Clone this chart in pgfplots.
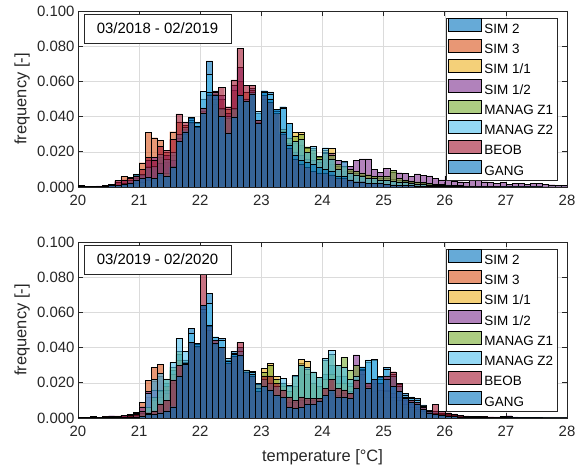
\documentclass[border=0pt]{standalone}
\usepackage{fontspec}
\setmainfont{Liberation Sans}
\usepackage{pgfplots}
\usepackage{pgfplotstable}
\pgfplotsset{compat=1.18}

% MATLAB default colour order
\definecolor{cA}{rgb}{0,0.447,0.741}
\definecolor{cB}{rgb}{0.850,0.325,0.098}
\definecolor{cC}{rgb}{0.929,0.694,0.125}
\definecolor{cD}{rgb}{0.494,0.184,0.556}
\definecolor{cE}{rgb}{0.466,0.674,0.188}
\definecolor{cF}{rgb}{0.301,0.745,0.933}
\definecolor{cG}{rgb}{0.635,0.078,0.184}
\definecolor{axcol}{rgb}{0.15,0.15,0.15}

% relative frequencies per 0.1 K bin, 03/2018 - 02/2019
\pgfplotstableread{
t    s2     s3     s11    s12    z1     z2     beob   gang
20.0 0.0003 0.0004 0.0002 0.0008 0.0002 0.0003 0.0005 0.0003
20.1 0.0002 0.0003 0.0001 0.0005 0.0001 0.0002 0.0004 0.0002
20.2 0.0002 0.0003 0.0001 0.0004 0.0001 0.0002 0.0003 0.0002
20.3 0.0003 0.0005 0.0002 0.0006 0.0002 0.0003 0.0005 0.0003
20.4 0.0005 0.0010 0.0003 0.0010 0.0003 0.0005 0.0008 0.0004
20.5 0.0008 0.0012 0.0005 0.0013 0.0005 0.0008 0.0015 0.0008
20.6 0.0010 0.0025 0.0008 0.0030 0.0008 0.0010 0.0036 0.0010
20.7 0.0020 0.0059 0.0010 0.0040 0.0010 0.0020 0.0040 0.0015
20.8 0.0030 0.0055 0.0015 0.0040 0.0015 0.0040 0.0050 0.0020
20.9 0.0070 0.0070 0.0020 0.0050 0.0020 0.0075 0.0060 0.0040
21.0 0.0070 0.0138 0.0030 0.0070 0.0030 0.0075 0.0100 0.0050
21.1 0.0120 0.0310 0.0040 0.0150 0.0040 0.0115 0.0170 0.0055
21.2 0.0110 0.0280 0.0050 0.0168 0.0050 0.0120 0.0150 0.0050
21.3 0.0170 0.0267 0.0070 0.0134 0.0070 0.0186 0.0230 0.0078
21.4 0.0140 0.0200 0.0080 0.0180 0.0080 0.0160 0.0210 0.0062
21.5 0.0180 0.0314 0.0120 0.0150 0.0120 0.0200 0.0270 0.0115
21.6 0.0300 0.0370 0.0260 0.0280 0.0260 0.0300 0.0415 0.0260
21.7 0.0330 0.0350 0.0300 0.0300 0.0300 0.0340 0.0370 0.0314
21.8 0.0390 0.0360 0.0360 0.0350 0.0360 0.0380 0.0370 0.0396
21.9 0.0360 0.0330 0.0340 0.0330 0.0340 0.0370 0.0340 0.0347
22.0 0.0500 0.0430 0.0420 0.0400 0.0420 0.0545 0.0450 0.0420
22.1 0.0716 0.0500 0.0530 0.0500 0.0530 0.0640 0.0520 0.0540
22.2 0.0530 0.0480 0.0500 0.0470 0.0500 0.0547 0.0540 0.0520
22.3 0.0450 0.0500 0.0440 0.0520 0.0440 0.0450 0.0566 0.0400
22.4 0.0400 0.0440 0.0390 0.0420 0.0390 0.0400 0.0456 0.0307
22.5 0.0450 0.0550 0.0440 0.0580 0.0440 0.0450 0.0608 0.0398
22.6 0.0520 0.0600 0.0520 0.0680 0.0520 0.0520 0.0788 0.0520
22.7 0.0500 0.0540 0.0490 0.0500 0.0490 0.0500 0.0576 0.0485
22.8 0.0560 0.0530 0.0530 0.0550 0.0530 0.0540 0.0576 0.0530
22.9 0.0420 0.0370 0.0370 0.0370 0.0370 0.0428 0.0380 0.0360
23.0 0.0547 0.0500 0.0500 0.0500 0.0500 0.0540 0.0520 0.0540
23.1 0.0540 0.0480 0.0480 0.0480 0.0480 0.0530 0.0480 0.0500
23.2 0.0440 0.0420 0.0420 0.0420 0.0420 0.0430 0.0420 0.0443
23.3 0.0456 0.0300 0.0330 0.0320 0.0330 0.0450 0.0300 0.0310
23.4 0.0363 0.0200 0.0280 0.0250 0.0280 0.0360 0.0220 0.0240
23.5 0.0250 0.0140 0.0310 0.0200 0.0290 0.0260 0.0160 0.0180
23.6 0.0240 0.0100 0.0310 0.0180 0.0300 0.0270 0.0130 0.0153
23.7 0.0200 0.0080 0.0220 0.0160 0.0229 0.0200 0.0110 0.0140
23.8 0.0190 0.0060 0.0210 0.0150 0.0220 0.0230 0.0090 0.0130
23.9 0.0150 0.0050 0.0170 0.0140 0.0176 0.0160 0.0080 0.0110
24.0 0.0160 0.0050 0.0210 0.0200 0.0190 0.0223 0.0080 0.0100
24.1 0.0130 0.0040 0.0218 0.0190 0.0180 0.0160 0.0070 0.0090
24.2 0.0090 0.0030 0.0120 0.0153 0.0130 0.0100 0.0050 0.0060
24.3 0.0090 0.0030 0.0110 0.0140 0.0120 0.0148 0.0050 0.0060
24.4 0.0060 0.0020 0.0090 0.0116 0.0100 0.0080 0.0040 0.0040
24.5 0.0050 0.0020 0.0080 0.0150 0.0090 0.0070 0.0030 0.0030
24.6 0.0050 0.0020 0.0070 0.0160 0.0080 0.0060 0.0030 0.0030
24.7 0.0040 0.0015 0.0070 0.0160 0.0070 0.0050 0.0020 0.0020
24.8 0.0040 0.0010 0.0060 0.0102 0.0060 0.0050 0.0020 0.0020
24.9 0.0030 0.0010 0.0050 0.0085 0.0060 0.0040 0.0020 0.0020
25.0 0.0030 0.0010 0.0050 0.0106 0.0060 0.0040 0.0015 0.0015
25.1 0.0025 0.0008 0.0045 0.0087 0.0095 0.0035 0.0012 0.0012
25.2 0.0020 0.0006 0.0040 0.0081 0.0050 0.0030 0.0010 0.0010
25.3 0.0018 0.0005 0.0035 0.0078 0.0040 0.0025 0.0010 0.0010
25.4 0.0015 0.0004 0.0030 0.0060 0.0035 0.0020 0.0008 0.0008
25.5 0.0012 0.0003 0.0025 0.0074 0.0030 0.0018 0.0006 0.0006
25.6 0.0010 0.0003 0.0020 0.0068 0.0025 0.0015 0.0005 0.0005
25.7 0.0008 0.0002 0.0018 0.0063 0.0020 0.0012 0.0004 0.0004
25.8 0.0006 0.0002 0.0015 0.0050 0.0018 0.0010 0.0003 0.0003
25.9 0.0005 0.0001 0.0012 0.0040 0.0015 0.0008 0.0003 0.0003
26.0 0.0004 0.0001 0.0010 0.0063 0.0012 0.0006 0.0002 0.0002
26.1 0.0003 0.0001 0.0008 0.0034 0.0010 0.0005 0.0002 0.0002
26.2 0.0003 0.0001 0.0007 0.0030 0.0008 0.0004 0.0002 0.0002
26.3 0.0002 0.0001 0.0006 0.0025 0.0007 0.0003 0.0001 0.0001
26.4 0.0002 0.0001 0.0005 0.0036 0.0006 0.0003 0.0001 0.0001
26.5 0.0002 0.0001 0.0005 0.0036 0.0005 0.0002 0.0001 0.0001
26.6 0.0002 0.0001 0.0004 0.0030 0.0005 0.0002 0.0001 0.0001
26.7 0.0001 0.0000 0.0004 0.0028 0.0004 0.0002 0.0001 0.0001
26.8 0.0001 0.0000 0.0003 0.0020 0.0004 0.0002 0.0001 0.0001
26.9 0.0001 0.0000 0.0003 0.0025 0.0003 0.0001 0.0001 0.0001
27.0 0.0001 0.0000 0.0003 0.0017 0.0003 0.0001 0.0000 0.0001
27.1 0.0001 0.0000 0.0002 0.0020 0.0003 0.0001 0.0000 0.0001
27.2 0.0001 0.0000 0.0002 0.0019 0.0002 0.0001 0.0000 0.0000
27.3 0.0000 0.0000 0.0002 0.0017 0.0002 0.0001 0.0000 0.0000
27.4 0.0000 0.0000 0.0002 0.0020 0.0002 0.0001 0.0000 0.0000
27.5 0.0000 0.0000 0.0001 0.0019 0.0002 0.0000 0.0000 0.0000
27.6 0.0000 0.0000 0.0001 0.0015 0.0001 0.0000 0.0000 0.0000
27.7 0.0000 0.0000 0.0001 0.0013 0.0001 0.0000 0.0000 0.0000
27.8 0.0000 0.0000 0.0001 0.0011 0.0001 0.0000 0.0000 0.0000
27.9 0.0000 0.0000 0.0001 0.0008 0.0001 0.0000 0.0000 0.0000
28.0 0      0      0      0      0      0      0      0
}\toptab

% relative frequencies per 0.1 K bin, 03/2019 - 02/2020
\pgfplotstableread{
t    s2     s3     s11    s12    z1     z2     beob   gang
20.0 0.0003 0.0003 0.0002 0.0005 0.0002 0.0003 0.0005 0.0003
20.1 0.0002 0.0002 0.0001 0.0003 0.0001 0.0002 0.0003 0.0002
20.2 0.0003 0.0004 0.0002 0.0006 0.0002 0.0003 0.0008 0.0002
20.3 0.0003 0.0003 0.0002 0.0004 0.0002 0.0003 0.0004 0.0002
20.4 0.0004 0.0005 0.0002 0.0008 0.0002 0.0004 0.0006 0.0003
20.5 0.0005 0.0008 0.0003 0.0013 0.0003 0.0005 0.0010 0.0003
20.6 0.0005 0.0008 0.0003 0.0010 0.0003 0.0005 0.0012 0.0003
20.7 0.0006 0.0010 0.0004 0.0017 0.0004 0.0006 0.0015 0.0004
20.8 0.0008 0.0020 0.0005 0.0015 0.0005 0.0010 0.0015 0.0004
20.9 0.0012 0.0032 0.0008 0.0025 0.0008 0.0015 0.0020 0.0005
21.0 0.0030 0.0089 0.0030 0.0064 0.0030 0.0040 0.0040 0.0010
21.1 0.0120 0.0214 0.0060 0.0150 0.0060 0.0140 0.0030 0.0020
21.2 0.0210 0.0288 0.0100 0.0160 0.0120 0.0220 0.0040 0.0020
21.3 0.0240 0.0305 0.0120 0.0150 0.0160 0.0254 0.0080 0.0030
21.4 0.0200 0.0180 0.0140 0.0160 0.0223 0.0220 0.0100 0.0040
21.5 0.0270 0.0250 0.0200 0.0200 0.0290 0.0316 0.0216 0.0064
21.6 0.0360 0.0330 0.0300 0.0300 0.0380 0.0453 0.0300 0.0240
21.7 0.0330 0.0310 0.0310 0.0310 0.0320 0.0380 0.0310 0.0307
21.8 0.0511 0.0430 0.0430 0.0430 0.0430 0.0480 0.0430 0.0428
21.9 0.0420 0.0400 0.0400 0.0400 0.0400 0.0420 0.0410 0.0424
22.0 0.0640 0.0600 0.0600 0.0600 0.0600 0.0620 0.0895 0.0640
22.1 0.0708 0.0500 0.0500 0.0500 0.0500 0.0650 0.0520 0.0528
22.2 0.0460 0.0420 0.0420 0.0420 0.0420 0.0462 0.0440 0.0424
22.3 0.0453 0.0400 0.0400 0.0400 0.0400 0.0440 0.0400 0.0400
22.4 0.0330 0.0310 0.0310 0.0310 0.0310 0.0339 0.0310 0.0324
22.5 0.0380 0.0350 0.0350 0.0350 0.0350 0.0370 0.0350 0.0360
22.6 0.0400 0.0350 0.0350 0.0350 0.0350 0.0380 0.0430 0.0358
22.7 0.0260 0.0260 0.0273 0.0260 0.0260 0.0260 0.0260 0.0270
22.8 0.0267 0.0240 0.0250 0.0240 0.0240 0.0260 0.0240 0.0250
22.9 0.0170 0.0170 0.0190 0.0170 0.0170 0.0170 0.0150 0.0197
23.0 0.0220 0.0160 0.0282 0.0160 0.0260 0.0220 0.0240 0.0180
23.1 0.0200 0.0140 0.0310 0.0150 0.0300 0.0200 0.0240 0.0160
23.2 0.0180 0.0110 0.0235 0.0120 0.0220 0.0180 0.0197 0.0130
23.3 0.0200 0.0090 0.0180 0.0110 0.0200 0.0225 0.0160 0.0120
23.4 0.0150 0.0070 0.0150 0.0090 0.0180 0.0187 0.0120 0.0060
23.5 0.0180 0.0060 0.0180 0.0090 0.0240 0.0244 0.0100 0.0055
23.6 0.0310 0.0050 0.0335 0.0100 0.0300 0.0300 0.0120 0.0060
23.7 0.0250 0.0040 0.0324 0.0100 0.0280 0.0288 0.0110 0.0080
23.8 0.0200 0.0030 0.0200 0.0100 0.0260 0.0263 0.0110 0.0080
23.9 0.0180 0.0030 0.0180 0.0100 0.0230 0.0231 0.0110 0.0097
24.0 0.0250 0.0030 0.0220 0.0120 0.0330 0.0339 0.0169 0.0130
24.1 0.0300 0.0030 0.0250 0.0140 0.0360 0.0386 0.0220 0.0160
24.2 0.0240 0.0020 0.0200 0.0130 0.0300 0.0301 0.0169 0.0117
24.3 0.0240 0.0020 0.0200 0.0140 0.0345 0.0290 0.0160 0.0120
24.4 0.0200 0.0020 0.0180 0.0150 0.0273 0.0220 0.0140 0.0110
24.5 0.0220 0.0020 0.0180 0.0358 0.0300 0.0240 0.0216 0.0169
24.6 0.0290 0.0020 0.0200 0.0250 0.0250 0.0280 0.0270 0.0290
24.7 0.0320 0.0020 0.0150 0.0200 0.0180 0.0330 0.0200 0.0169
24.8 0.0330 0.0010 0.0150 0.0200 0.0200 0.0333 0.0220 0.0220
24.9 0.0230 0.0010 0.0120 0.0160 0.0160 0.0220 0.0200 0.0235
25.0 0.0288 0.0010 0.0120 0.0160 0.0150 0.0280 0.0240 0.0220
25.1 0.0250 0.0008 0.0100 0.0140 0.0120 0.0240 0.0263 0.0180
25.2 0.0190 0.0006 0.0080 0.0120 0.0100 0.0180 0.0197 0.0150
25.3 0.0140 0.0005 0.0060 0.0100 0.0080 0.0130 0.0120 0.0110
25.4 0.0120 0.0004 0.0050 0.0080 0.0060 0.0110 0.0100 0.0090
25.5 0.0110 0.0003 0.0040 0.0060 0.0050 0.0100 0.0090 0.0080
25.6 0.0074 0.0002 0.0030 0.0050 0.0040 0.0070 0.0060 0.0050
25.7 0.0045 0.0002 0.0020 0.0035 0.0030 0.0040 0.0040 0.0030
25.8 0.0040 0.0001 0.0015 0.0030 0.0020 0.0030 0.0078 0.0020
25.9 0.0030 0.0001 0.0010 0.0020 0.0015 0.0020 0.0036 0.0015
26.0 0.0020 0.0001 0.0008 0.0020 0.0010 0.0015 0.0030 0.0010
26.1 0.0015 0.0000 0.0006 0.0015 0.0008 0.0010 0.0023 0.0008
26.2 0.0010 0.0000 0.0005 0.0012 0.0006 0.0008 0.0017 0.0006
26.3 0.0008 0.0000 0.0004 0.0010 0.0005 0.0006 0.0012 0.0005
26.4 0.0006 0.0000 0.0003 0.0010 0.0004 0.0005 0.0010 0.0004
26.5 0.0005 0.0000 0.0003 0.0008 0.0003 0.0004 0.0008 0.0003
26.6 0.0004 0.0000 0.0002 0.0008 0.0003 0.0003 0.0007 0.0003
26.7 0.0003 0.0000 0.0002 0.0007 0.0002 0.0003 0.0006 0.0002
26.8 0.0003 0.0000 0.0002 0.0006 0.0002 0.0002 0.0005 0.0002
26.9 0.0002 0.0000 0.0001 0.0008 0.0002 0.0002 0.0004 0.0002
27.0 0.0002 0.0000 0.0001 0.0013 0.0001 0.0002 0.0004 0.0001
27.1 0.0002 0.0000 0.0001 0.0006 0.0001 0.0001 0.0003 0.0001
27.2 0.0001 0.0000 0.0001 0.0005 0.0001 0.0001 0.0003 0.0001
27.3 0.0001 0.0000 0.0001 0.0004 0.0001 0.0001 0.0002 0.0001
27.4 0.0001 0.0000 0.0000 0.0004 0.0000 0.0001 0.0002 0.0000
27.5 0.0001 0.0000 0.0000 0.0003 0.0000 0.0001 0.0002 0.0000
27.6 0.0000 0.0000 0.0000 0.0003 0.0000 0.0000 0.0001 0.0000
27.7 0.0000 0.0000 0.0000 0.0003 0.0000 0.0000 0.0001 0.0000
27.8 0.0000 0.0000 0.0000 0.0002 0.0000 0.0000 0.0001 0.0000
27.9 0.0000 0.0000 0.0000 0.0002 0.0000 0.0000 0.0001 0.0000
28.0 0      0      0      0      0      0      0      0
}\bottab

\pgfplotsset{
  hbar/.style={ybar interval, fill=#1, fill opacity=0.6, draw=black, line width=0.35bp,
    legend image code/.code={\draw[fill=#1, fill opacity=0.6, draw=black, line width=0.6bp] (0bp,-2bp) rectangle (33bp,11bp);}},
  histaxis/.style={
    scale only axis, width=489bp, height=176bp, anchor=south west,
    xmin=20, xmax=28, ymin=0, ymax=0.1,
    xtick={20,21,22,23,24,25,26,27,28},
    ytick={0,0.02,0.04,0.06,0.08,0.1},
    scaled y ticks=false,
    yticklabel={\pgfmathprintnumber[fixed,fixed zerofill,precision=3,assume math mode=true]{\tick}},
    xticklabel={\pgfmathprintnumber[assume math mode=true]{\tick}},
    tick align=inside, tick pos=both, major tick length=5bp,
    grid=major, major grid style={line width=0.5bp, draw=black!14},
    axis line style={draw=axcol, line width=0.6bp},
    every tick/.style={draw=axcol, line width=0.6bp},
    ticklabel style={font=\fontsize{15}{18}\selectfont, text=axcol},
    xticklabel style={yshift=-5bp},
    label style={font=\fontsize{16.5}{19}\selectfont, text=axcol},
    ylabel={frequency [-]},
    ylabel style={at={(axis description cs:-0.1145,0.5)}, anchor=center},
    legend cell align=left,
    legend style={at={(rel axis cs:0.9816,0.960)}, anchor=north east,
      draw=axcol, line width=0.6bp, fill=white, text=black,
      font=\fontsize{13.5}{16}\selectfont, inner xsep=2bp, inner ysep=0bp, row sep=0bp,
      nodes={inner sep=2.5bp, text height=10bp, text depth=3bp}},
  },
}

\newcommand{\histseries}[1]{%
  \addplot[hbar=cA] table[x=t,y=s2]{#1}; \addlegendentry{SIM 2}
  \addplot[hbar=cB] table[x=t,y=s3]{#1}; \addlegendentry{SIM 3}
  \addplot[hbar=cC] table[x=t,y=s11]{#1}; \addlegendentry{SIM 1/1}
  \addplot[hbar=cD] table[x=t,y=s12]{#1}; \addlegendentry{SIM 1/2}
  \addplot[hbar=cE] table[x=t,y=z1]{#1}; \addlegendentry{MANAG Z1}
  \addplot[hbar=cF] table[x=t,y=z2]{#1}; \addlegendentry{MANAG Z2}
  \addplot[hbar=cG] table[x=t,y=beob]{#1}; \addlegendentry{BEOB}
  \addplot[hbar=cA] table[x=t,y=gang]{#1}; \addlegendentry{GANG}
}

\tikzset{periodbox/.style={draw=axcol, fill=white, line width=0.8bp, minimum width=147bp,
  minimum height=29bp, inner sep=0pt, font=\fontsize{15}{18}\selectfont, text=black}}

\begin{document}
\begin{tikzpicture}
\useasboundingbox (0,0) rectangle (582bp,468bp);

\begin{axis}[histaxis, at={(78bp,281bp)}]
  \histseries{\toptab}
  \node[periodbox] at (rel axis cs:0.1626,0.9006) {03/2018 - 02/2019};
\end{axis}

\begin{axis}[histaxis, at={(78bp,50bp)},
    xlabel={temperature [°C]},
    xlabel style={at={(axis description cs:0.5,-0.2216)}, anchor=center}]
  \histseries{\bottab}
  \node[periodbox] at (rel axis cs:0.1626,0.9006) {03/2019 - 02/2020};
\end{axis}
\end{tikzpicture}
\end{document}
